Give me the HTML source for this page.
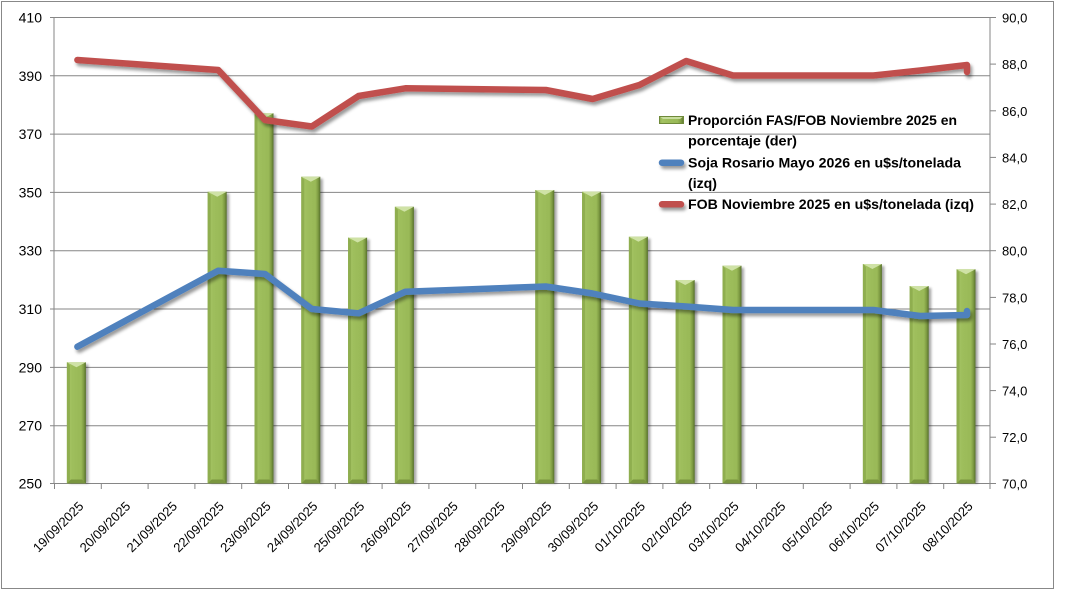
<!DOCTYPE html>
<html>
<head>
<meta charset="utf-8">
<style>
html,body{margin:0;padding:0;background:#fff;}
body{width:1068px;height:599px;overflow:hidden;}
svg{display:block;}
text{font-family:"Liberation Sans",sans-serif;fill:#000;}
</style>
</head>
<body>
<svg width="1068" height="599" viewBox="0 0 1068 599" xmlns="http://www.w3.org/2000/svg">
<defs>
<linearGradient id="bg" x1="0" y1="0" x2="1" y2="0">
<stop offset="0" stop-color="#86a548"/>
<stop offset="0.12" stop-color="#a4c363"/>
<stop offset="0.3" stop-color="#9ebe5c"/>
<stop offset="0.75" stop-color="#99b957"/>
<stop offset="0.88" stop-color="#7f9c43"/>
<stop offset="1" stop-color="#56702b"/>
</linearGradient>
<filter id="ls" x="-10%" y="-50%" width="120%" height="200%">
<feDropShadow dx="2" dy="3" stdDeviation="1.6" flood-color="#000" flood-opacity="0.4"/>
</filter>
<filter id="lsu" filterUnits="userSpaceOnUse" x="0" y="0" width="1068" height="599">
<feDropShadow dx="2" dy="3" stdDeviation="1.6" flood-color="#000" flood-opacity="0.4"/>
</filter>
<filter id="bs" x="-50%" y="-5%" width="200%" height="110%">
<feGaussianBlur stdDeviation="1.2"/>
</filter>
</defs>

<rect x="1.5" y="1.5" width="1052" height="587" fill="#fff" stroke="#888" stroke-width="1"/>

<!-- gridlines -->
<g stroke="#868686" stroke-width="1">
<line x1="50" y1="17.5" x2="990" y2="17.5"/>
<line x1="50" y1="75.8" x2="990" y2="75.8"/>
<line x1="50" y1="134.1" x2="990" y2="134.1"/>
<line x1="50" y1="192.4" x2="990" y2="192.4"/>
<line x1="50" y1="250.7" x2="990" y2="250.7"/>
<line x1="50" y1="309" x2="990" y2="309"/>
<line x1="50" y1="367.4" x2="990" y2="367.4"/>
<line x1="50" y1="425.7" x2="990" y2="425.7"/>
<line x1="50" y1="483.5" x2="990" y2="483.5"/>
<line x1="54" y1="17" x2="54" y2="484"/>
<line x1="990" y1="17" x2="990" y2="484"/>
<line x1="990" y1="17.5" x2="996" y2="17.5"/>
<line x1="990" y1="64.1" x2="996" y2="64.1"/>
<line x1="990" y1="110.8" x2="996" y2="110.8"/>
<line x1="990" y1="157.4" x2="996" y2="157.4"/>
<line x1="990" y1="204.1" x2="996" y2="204.1"/>
<line x1="990" y1="250.7" x2="996" y2="250.7"/>
<line x1="990" y1="297.4" x2="996" y2="297.4"/>
<line x1="990" y1="344" x2="996" y2="344"/>
<line x1="990" y1="390.6" x2="996" y2="390.6"/>
<line x1="990" y1="437.2" x2="996" y2="437.2"/>
<line x1="990" y1="483.5" x2="996" y2="483.5"/>
<line x1="54.5" y1="483" x2="54.5" y2="489"/>
<line x1="101.3" y1="483" x2="101.3" y2="489"/>
<line x1="148.1" y1="483" x2="148.1" y2="489"/>
<line x1="194.9" y1="483" x2="194.9" y2="489"/>
<line x1="241.7" y1="483" x2="241.7" y2="489"/>
<line x1="288.5" y1="483" x2="288.5" y2="489"/>
<line x1="335.3" y1="483" x2="335.3" y2="489"/>
<line x1="382.1" y1="483" x2="382.1" y2="489"/>
<line x1="428.9" y1="483" x2="428.9" y2="489"/>
<line x1="475.7" y1="483" x2="475.7" y2="489"/>
<line x1="522.5" y1="483" x2="522.5" y2="489"/>
<line x1="569.3" y1="483" x2="569.3" y2="489"/>
<line x1="616.1" y1="483" x2="616.1" y2="489"/>
<line x1="662.9" y1="483" x2="662.9" y2="489"/>
<line x1="709.7" y1="483" x2="709.7" y2="489"/>
<line x1="756.5" y1="483" x2="756.5" y2="489"/>
<line x1="803.3" y1="483" x2="803.3" y2="489"/>
<line x1="850.1" y1="483" x2="850.1" y2="489"/>
<line x1="896.9" y1="483" x2="896.9" y2="489"/>
<line x1="943.7" y1="483" x2="943.7" y2="489"/>
<line x1="990" y1="483" x2="990" y2="489"/>
</g>

<!-- bars -->
<g id="bars">
<g transform="translate(66.9,362.3)"><rect x="2.5" y="2" width="19" height="119.2" fill="#000" opacity="0.35" filter="url(#bs)"/><rect width="19" height="121.2" fill="url(#bg)"/><polygon points="0,0 19,0 9.5,5" fill="#cfe2a6"/><polygon points="0,0 3,3 3,118.2 0,121.2" fill="#8fae4f"/><polygon points="0,121.2 19,121.2 15,117.2 4,117.2" fill="#7a963f"/></g>
<g transform="translate(207.7,191.7)"><rect x="2.5" y="2" width="19" height="289.8" fill="#000" opacity="0.35" filter="url(#bs)"/><rect width="19" height="291.8" fill="url(#bg)"/><polygon points="0,0 19,0 9.5,5" fill="#cfe2a6"/><polygon points="0,0 3,3 3,288.8 0,291.8" fill="#8fae4f"/><polygon points="0,291.8 19,291.8 15,287.8 4,287.8" fill="#7a963f"/></g>
<g transform="translate(254.5,113.3)"><rect x="2.5" y="2" width="19" height="368.2" fill="#000" opacity="0.35" filter="url(#bs)"/><rect width="19" height="370.2" fill="url(#bg)"/><polygon points="0,0 19,0 9.5,5" fill="#cfe2a6"/><polygon points="0,0 3,3 3,367.2 0,370.2" fill="#8fae4f"/><polygon points="0,370.2 19,370.2 15,366.2 4,366.2" fill="#7a963f"/></g>
<g transform="translate(301.3,176.7)"><rect x="2.5" y="2" width="19" height="304.8" fill="#000" opacity="0.35" filter="url(#bs)"/><rect width="19" height="306.8" fill="url(#bg)"/><polygon points="0,0 19,0 9.5,5" fill="#cfe2a6"/><polygon points="0,0 3,3 3,303.8 0,306.8" fill="#8fae4f"/><polygon points="0,306.8 19,306.8 15,302.8 4,302.8" fill="#7a963f"/></g>
<g transform="translate(348.1,237.5)"><rect x="2.5" y="2" width="19" height="244" fill="#000" opacity="0.35" filter="url(#bs)"/><rect width="19" height="246" fill="url(#bg)"/><polygon points="0,0 19,0 9.5,5" fill="#cfe2a6"/><polygon points="0,0 3,3 3,243 0,246" fill="#8fae4f"/><polygon points="0,246 19,246 15,242 4,242" fill="#7a963f"/></g>
<g transform="translate(394.9,206.7)"><rect x="2.5" y="2" width="19" height="274.8" fill="#000" opacity="0.35" filter="url(#bs)"/><rect width="19" height="276.8" fill="url(#bg)"/><polygon points="0,0 19,0 9.5,5" fill="#cfe2a6"/><polygon points="0,0 3,3 3,273.8 0,276.8" fill="#8fae4f"/><polygon points="0,276.8 19,276.8 15,272.8 4,272.8" fill="#7a963f"/></g>
<g transform="translate(535.3,190)"><rect x="2.5" y="2" width="19" height="291.5" fill="#000" opacity="0.35" filter="url(#bs)"/><rect width="19" height="293.5" fill="url(#bg)"/><polygon points="0,0 19,0 9.5,5" fill="#cfe2a6"/><polygon points="0,0 3,3 3,290.5 0,293.5" fill="#8fae4f"/><polygon points="0,293.5 19,293.5 15,289.5 4,289.5" fill="#7a963f"/></g>
<g transform="translate(582.1,191.7)"><rect x="2.5" y="2" width="19" height="289.8" fill="#000" opacity="0.35" filter="url(#bs)"/><rect width="19" height="291.8" fill="url(#bg)"/><polygon points="0,0 19,0 9.5,5" fill="#cfe2a6"/><polygon points="0,0 3,3 3,288.8 0,291.8" fill="#8fae4f"/><polygon points="0,291.8 19,291.8 15,287.8 4,287.8" fill="#7a963f"/></g>
<g transform="translate(628.9,236.7)"><rect x="2.5" y="2" width="19" height="244.8" fill="#000" opacity="0.35" filter="url(#bs)"/><rect width="19" height="246.8" fill="url(#bg)"/><polygon points="0,0 19,0 9.5,5" fill="#cfe2a6"/><polygon points="0,0 3,3 3,243.8 0,246.8" fill="#8fae4f"/><polygon points="0,246.8 19,246.8 15,242.8 4,242.8" fill="#7a963f"/></g>
<g transform="translate(675.7,280)"><rect x="2.5" y="2" width="19" height="201.5" fill="#000" opacity="0.35" filter="url(#bs)"/><rect width="19" height="203.5" fill="url(#bg)"/><polygon points="0,0 19,0 9.5,5" fill="#cfe2a6"/><polygon points="0,0 3,3 3,200.5 0,203.5" fill="#8fae4f"/><polygon points="0,203.5 19,203.5 15,199.5 4,199.5" fill="#7a963f"/></g>
<g transform="translate(722.5,265.7)"><rect x="2.5" y="2" width="19" height="215.8" fill="#000" opacity="0.35" filter="url(#bs)"/><rect width="19" height="217.8" fill="url(#bg)"/><polygon points="0,0 19,0 9.5,5" fill="#cfe2a6"/><polygon points="0,0 3,3 3,214.8 0,217.8" fill="#8fae4f"/><polygon points="0,217.8 19,217.8 15,213.8 4,213.8" fill="#7a963f"/></g>
<g transform="translate(862.9,264)"><rect x="2.5" y="2" width="19" height="217.5" fill="#000" opacity="0.35" filter="url(#bs)"/><rect width="19" height="219.5" fill="url(#bg)"/><polygon points="0,0 19,0 9.5,5" fill="#cfe2a6"/><polygon points="0,0 3,3 3,216.5 0,219.5" fill="#8fae4f"/><polygon points="0,219.5 19,219.5 15,215.5 4,215.5" fill="#7a963f"/></g>
<g transform="translate(909.7,286)"><rect x="2.5" y="2" width="19" height="195.5" fill="#000" opacity="0.35" filter="url(#bs)"/><rect width="19" height="197.5" fill="url(#bg)"/><polygon points="0,0 19,0 9.5,5" fill="#cfe2a6"/><polygon points="0,0 3,3 3,194.5 0,197.5" fill="#8fae4f"/><polygon points="0,197.5 19,197.5 15,193.5 4,193.5" fill="#7a963f"/></g>
<g transform="translate(956.5,269.3)"><rect x="2.5" y="2" width="19" height="212.2" fill="#000" opacity="0.35" filter="url(#bs)"/><rect width="19" height="214.2" fill="url(#bg)"/><polygon points="0,0 19,0 9.5,5" fill="#cfe2a6"/><polygon points="0,0 3,3 3,211.2 0,214.2" fill="#8fae4f"/><polygon points="0,214.2 19,214.2 15,210.2 4,210.2" fill="#7a963f"/></g>
</g>

<!-- lines -->
<g fill="none" stroke-width="6.5" stroke-linejoin="round" stroke-linecap="round" filter="url(#lsu)">
<polyline stroke="#c0504d" points="77.4,60 218.2,70 265,120 311.8,126.5 358.6,96 405.4,88.3 545.8,90 592.6,99 639.4,85 686.2,61 733,75.5 873.4,75.5 920.2,70.5 967,65 967,72"/>
<polyline stroke="#4f81bd" points="77.4,346.7 218.2,270.7 265,274 311.8,309 358.6,313.3 405.4,291.7 545.8,286.5 592.6,293.5 639.4,303.5 686.2,306.5 733,310 873.4,310 920.2,316 967,315 967,311"/>
</g>

<!-- left axis labels -->
<g font-size="14" text-anchor="end">
<text x="42" y="22.5">410</text>
<text x="42" y="80.8">390</text>
<text x="42" y="139.1">370</text>
<text x="42" y="197.4">350</text>
<text x="42" y="255.7">330</text>
<text x="42" y="314">310</text>
<text x="42" y="372.4">290</text>
<text x="42" y="430.7">270</text>
<text x="42" y="488.5">250</text>
</g>
<!-- right axis labels -->
<g font-size="13">
<text x="1002" y="22.5">90,0</text>
<text x="1002" y="69.1">88,0</text>
<text x="1002" y="115.8">86,0</text>
<text x="1002" y="162.4">84,0</text>
<text x="1002" y="209.1">82,0</text>
<text x="1002" y="255.7">80,0</text>
<text x="1002" y="302.4">78,0</text>
<text x="1002" y="349">76,0</text>
<text x="1002" y="395.6">74,0</text>
<text x="1002" y="442.2">72,0</text>
<text x="1002" y="488.5">70,0</text>
</g>

<!-- bottom labels -->
<g font-size="13" text-anchor="end">
<text transform="translate(84.4,507) rotate(-45)">19/09/2025</text>
<text transform="translate(131.2,507) rotate(-45)">20/09/2025</text>
<text transform="translate(178,507) rotate(-45)">21/09/2025</text>
<text transform="translate(224.8,507) rotate(-45)">22/09/2025</text>
<text transform="translate(271.6,507) rotate(-45)">23/09/2025</text>
<text transform="translate(318.4,507) rotate(-45)">24/09/2025</text>
<text transform="translate(365.2,507) rotate(-45)">25/09/2025</text>
<text transform="translate(412,507) rotate(-45)">26/09/2025</text>
<text transform="translate(458.8,507) rotate(-45)">27/09/2025</text>
<text transform="translate(505.6,507) rotate(-45)">28/09/2025</text>
<text transform="translate(552.4,507) rotate(-45)">29/09/2025</text>
<text transform="translate(599.2,507) rotate(-45)">30/09/2025</text>
<text transform="translate(646,507) rotate(-45)">01/10/2025</text>
<text transform="translate(692.8,507) rotate(-45)">02/10/2025</text>
<text transform="translate(739.6,507) rotate(-45)">03/10/2025</text>
<text transform="translate(786.4,507) rotate(-45)">04/10/2025</text>
<text transform="translate(833.2,507) rotate(-45)">05/10/2025</text>
<text transform="translate(880,507) rotate(-45)">06/10/2025</text>
<text transform="translate(926.8,507) rotate(-45)">07/10/2025</text>
<text transform="translate(973.6,507) rotate(-45)">08/10/2025</text>
</g>

<!-- legend -->
<g>
<g transform="translate(659,116)"><rect width="25" height="8" fill="url(#bg)"/><polygon points="0,0 25,0 21,3 4,3" fill="#c8dd9e"/><rect x="0.5" y="0.5" width="24" height="7" fill="none" stroke="#6f8a3a" stroke-width="1"/></g>
<line x1="662" y1="162.7" x2="681" y2="162.7" stroke="#4f81bd" stroke-width="6.5" stroke-linecap="round" filter="url(#lsu)"/>
<line x1="662" y1="204.3" x2="681" y2="204.3" stroke="#c0504d" stroke-width="6.5" stroke-linecap="round" filter="url(#lsu)"/>
<g font-size="14" font-weight="bold">
<text x="688" y="125" textLength="269" lengthAdjust="spacingAndGlyphs">Proporción FAS/FOB Noviembre 2025 en</text>
<text x="688" y="145.5" textLength="109" lengthAdjust="spacingAndGlyphs">porcentaje (der)</text>
<text x="688" y="167.5" textLength="273" lengthAdjust="spacingAndGlyphs">Soja Rosario Mayo 2026 en u$s/tonelada</text>
<text x="688" y="188" textLength="29" lengthAdjust="spacingAndGlyphs">(izq)</text>
<text x="688" y="209" textLength="286" lengthAdjust="spacingAndGlyphs">FOB Noviembre 2025 en u$s/tonelada (izq)</text>
</g>
</g>
</svg>
</body>
</html>
